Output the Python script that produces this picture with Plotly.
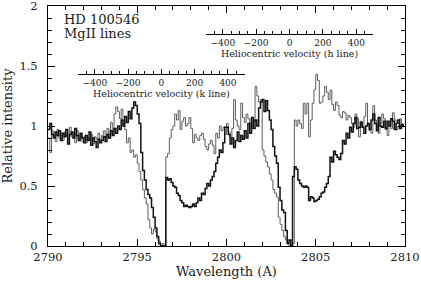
import numpy as np
import plotly.graph_objects as go

# ---------------- data ----------------
wl_start = 2790.0   # first bin (Angstrom)
wl_step = 0.1       # bin width (Angstrom)

# thick spectrum (relative intensity), one row per Angstrom
thick = [
    0.97, 1.02, 0.93, 0.90, 0.95, 0.92, 0.96, 0.88, 0.94, 0.91,   # 2790
    0.97, 0.85, 0.93, 0.95, 0.90, 0.98, 0.92, 0.88, 0.94, 0.90,   # 2791
    0.86, 0.92, 0.88, 0.95, 0.84, 0.90, 0.87, 0.82, 0.89, 0.86,   # 2792
    0.88, 0.91, 0.87, 0.93, 0.90, 0.96, 0.92, 0.98, 0.94, 1.00,   # 2793
    0.97, 1.05, 1.00, 1.08, 1.03, 1.12, 1.06, 1.15, 1.20, 1.17,   # 2794
    1.10, 1.02, 0.78, 0.63, 0.55, 0.47, 0.43, 0.40, 0.32, 0.24,   # 2795
    0.15, 0.08, 0.02, 0.00, 0.00, 0.00, 0.57, 0.55, 0.56, 0.53,   # 2796
    0.50, 0.49, 0.44, 0.42, 0.38, 0.36, 0.33, 0.34, 0.33, 0.32,   # 2797
    0.33, 0.35, 0.33, 0.36, 0.40, 0.38, 0.44, 0.43, 0.48, 0.52,   # 2798
    0.50, 0.55, 0.58, 0.62, 0.69, 0.74, 0.80, 0.78, 0.86, 0.99,   # 2799
    0.99, 0.93, 0.85, 0.90, 0.82, 0.88, 0.95, 0.87, 0.92, 0.89,   # 2800
    0.96, 0.90, 1.02, 0.94, 1.07, 0.98, 1.05, 1.00, 1.15, 1.20,   # 2801
    1.22, 1.12, 1.21, 1.13, 1.05, 0.97, 0.83, 0.75, 0.69, 0.49,   # 2802
    0.38, 0.30, 0.28, 0.13, 0.02, 0.05, 0.00, 0.58, 0.66, 0.64,   # 2803
    0.55, 0.52, 0.50, 0.49, 0.50, 0.49, 0.38, 0.41, 0.40, 0.37,   # 2804
    0.38, 0.39, 0.41, 0.44, 0.45, 0.49, 0.52, 0.58, 0.74, 0.70,   # 2805
    0.79, 0.76, 0.74, 0.72, 0.77, 0.88, 0.85, 0.94, 0.90, 0.99,   # 2806
    0.95, 1.02, 1.07, 0.98, 0.99, 1.03, 0.99, 0.94, 1.00, 1.02,   # 2807
    0.97, 1.05, 1.10, 1.02, 0.96, 1.07, 1.00, 0.99, 1.04, 0.98,   # 2808
    1.04, 1.00, 1.06, 1.04, 0.97, 1.02, 1.05, 0.98, 1.01, 0.99,   # 2809
]

# thin spectrum (relative intensity)
thin = [
    0.90, 0.78, 0.96, 0.92, 0.87, 0.97, 0.90, 0.94, 0.88, 0.95,   # 2790
    0.92, 0.89, 0.99, 0.91, 0.94, 0.86, 0.96, 0.90, 0.93, 0.87,   # 2791
    0.91, 0.86, 0.90, 0.88, 0.93, 0.85, 0.91, 0.89, 0.94, 0.88,   # 2792
    0.92, 0.96, 0.90, 0.98, 0.93, 1.03, 0.95, 1.10, 1.16, 1.12,   # 2793
    1.06, 1.14, 1.00, 0.97, 0.86, 0.90, 0.78, 0.80, 0.74, 0.76,   # 2794
    0.69, 0.62, 0.55, 0.47, 0.40, 0.35, 0.22, 0.15, 0.10, 0.14,   # 2795
    0.12, 0.06, 0.04, 0.00, 0.02, 0.00, 0.74, 0.77, 0.90, 0.97,   # 2796
    1.00, 1.10, 1.05, 1.13, 0.97, 1.04, 1.07, 1.00, 1.02, 1.07,   # 2797
    0.98, 0.86, 0.93, 0.90, 0.88, 0.92, 0.94, 0.89, 0.83, 0.80,   # 2798
    0.85, 0.88, 0.84, 0.77, 0.94, 0.90, 1.00, 0.96, 0.99, 0.93,   # 2799
    1.02, 0.95, 0.90, 0.98, 1.22, 1.05, 1.00, 0.97, 1.19, 1.07,   # 2800
    1.03, 1.10, 1.06, 1.02, 0.98, 1.04, 1.33, 1.25, 1.20, 1.22,   # 2801
    0.80, 0.75, 0.70, 0.66, 0.60, 0.55, 0.47, 0.44, 0.41, 0.24,   # 2802
    0.18, 0.13, 0.08, 0.05, 0.02, 0.00, 0.00, 0.02, 1.05, 1.00,   # 2803
    1.05, 1.02, 0.98, 1.19, 1.10, 1.19, 0.91, 1.05, 1.19, 1.30,   # 2804
    1.43, 1.38, 1.19, 1.20, 1.25, 1.33, 1.28, 1.22, 1.30, 1.18,   # 2805
    1.13, 1.20, 1.17, 1.09, 1.07, 1.12, 1.11, 1.05, 1.09, 1.07,   # 2806
    1.02, 0.99, 1.10, 1.06, 0.91, 1.04, 1.00, 1.08, 1.19, 1.02,   # 2807
    0.96, 0.94, 1.17, 1.05, 1.00, 0.94, 1.02, 1.10, 1.06, 0.97,   # 2808
    0.92, 1.03, 0.98, 1.11, 1.05, 0.97, 1.00, 1.06, 1.02, 1.00,   # 2809
]

wl_range = [2790, 2810]
y_range = [0, 2]
k_rest = 2796.352     # Mg II k rest wavelength (A)
h_rest = 2803.531     # Mg II h rest wavelength (A)
c_kms = 299792.458
vel_range = [-500, 500]
vel_ticks = [-400, -200, 0, 200, 400]
k_axis_level = 1.433  # intensity level of k-line velocity axis
h_axis_level = 1.767  # intensity level of h-line velocity axis

# ---------------- figure ----------------
wl = np.round(wl_start + wl_step * np.arange(len(thick)), 3)

FONT = "DejaVu Serif"
TXT = "#1a1a1a"

fig = go.Figure()
fig.add_trace(go.Scatter(x=wl, y=thin, mode="lines", showlegend=False,
                         line=dict(shape="hv", color="#5e5e5e", width=1)))
fig.add_trace(go.Scatter(x=wl, y=thick, mode="lines", showlegend=False,
                         line=dict(shape="hv", color="#111111", width=1.5)))
# empty traces to register velocity axes
fig.add_trace(go.Scatter(x=[], y=[], xaxis="x2", yaxis="y", showlegend=False))
fig.add_trace(go.Scatter(x=[], y=[], xaxis="x3", yaxis="y", showlegend=False))


def vel_domain(rest):
    lo = rest * (1 + vel_range[0] / c_kms)
    hi = rest * (1 + vel_range[1] / c_kms)
    span = wl_range[1] - wl_range[0]
    return [(lo - wl_range[0]) / span, (hi - wl_range[0]) / span]


def vel_axis(rest, level, label):
    return dict(
        domain=vel_domain(rest), range=vel_range, anchor="free",
        position=(level - y_range[0]) / (y_range[1] - y_range[0]),
        showline=True, linecolor="black", linewidth=1, automargin=False,
        ticks="inside", ticklen=5, tickcolor="black", tickwidth=1,
        tickvals=vel_ticks, ticktext=[("\u2212" + str(-v)) if v < 0 else str(v) for v in vel_ticks],
        minor=dict(dtick=50, ticklen=3, ticks="inside", tickcolor="black"),
        tickfont=dict(family=FONT, size=9, color=TXT),
        showgrid=False, zeroline=False, fixedrange=True,
        title=dict(text=label, font=dict(family=FONT, size=9.5, color=TXT), standoff=2),
    )


fig.update_layout(
    width=421, height=282,
    margin=dict(l=48, r=16, t=6, b=36, autoexpand=False),
    paper_bgcolor="white", plot_bgcolor="rgba(0,0,0,0)",
    xaxis=dict(
        range=wl_range, showline=True, mirror="ticks", linecolor="black", linewidth=1,
        ticks="inside", ticklen=7, tickcolor="black", dtick=5, tick0=2790,
        minor=dict(dtick=1, ticklen=4, ticks="inside", tickcolor="black"),
        showgrid=False, zeroline=False, automargin=False, ticklabeloverflow="allow",
        tickfont=dict(family=FONT, size=11.5, color=TXT),
        title=dict(text="Wavelength (A)", font=dict(family=FONT, size=13, color=TXT), standoff=3),
    ),
    yaxis=dict(
        range=y_range, showline=True, mirror="ticks", linecolor="black", linewidth=1,
        ticks="inside", ticklen=7, tickcolor="black", dtick=0.5, tick0=0,
        minor=dict(dtick=0.1, ticklen=4, ticks="inside", tickcolor="black"),
        showgrid=False, zeroline=False, ticklabelstandoff=7, automargin=False,
        ticklabeloverflow="allow",
        tickfont=dict(family=FONT, size=11.5, color=TXT),
        title=dict(text="Relative intensity", font=dict(family=FONT, size=13, color=TXT), standoff=4),
    ),
    xaxis2=vel_axis(k_rest, k_axis_level, "Heliocentric velocity (k line)"),
    xaxis3=vel_axis(h_rest, h_axis_level, "Heliocentric velocity (h line)"),
    annotations=[
        dict(text="HD 100546", xref="paper", yref="paper", x=0.038, y=0.942,
             xanchor="left", yanchor="middle", showarrow=False,
             font=dict(family=FONT, size=13, color=TXT)),
        dict(text="MgII lines", xref="paper", yref="paper", x=0.038, y=0.884,
             xanchor="left", yanchor="middle", showarrow=False,
             font=dict(family=FONT, size=13, color=TXT)),
    ],
)

fig.write_html(
    "out.html",
    config={"displayModeBar": False},
    post_script="document.body.style.margin='0';document.body.style.padding='0';"
                "document.body.style.overflow='hidden';",
)
